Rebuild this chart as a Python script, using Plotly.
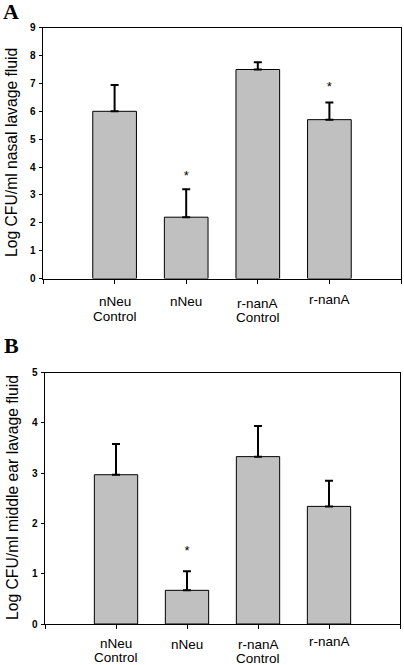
import plotly.graph_objects as go

categories = ["nNeu\nControl", "nNeu", "r-nanA\nControl", "r-nanA"]
x_pos = [0, 1, 2, 3]

nasal_mean = [6.0, 2.2, 7.5, 5.7]
nasal_err = [0.94, 1.0, 0.26, 0.62]
nasal_star_x = [1, 3]
nasal_star_y = [3.65, 6.86]

ear_mean = [2.97, 0.67, 3.33, 2.34]
ear_err = [0.61, 0.38, 0.61, 0.51]
ear_star_x = [1]
ear_star_y = [1.44]

y_ticks_a = list(range(0, 10))
y_ticks_b = list(range(0, 6))

W, H = 404, 665
FONT = "Liberation Sans, Arial, sans-serif"
SERIF = "Liberation Serif, Times New Roman, serif"
BAR_COLOR = "#c0c0c0"


def px(x):
    return x / W


def py(y):
    return 1 - y / H


# vertical centres (page pixels) of the category label lines in each panel
label_line_y_a = [[301.5, 316], [301.5], [304, 317], [299]]
label_line_y_b = [[643.5, 657.5], [644.5], [644.5, 658], [641.5]]

fig = go.Figure()


def add_panel(means, errs, sx, sy, xa, ya):
    fig.add_trace(go.Bar(
        x=x_pos, y=means, width=0.61,
        marker=dict(color=BAR_COLOR, line=dict(color="black", width=1)),
        error_y=dict(type="data", symmetric=False, array=errs,
                     arrayminus=[0] * len(errs), color="black",
                     thickness=2, width=4),
        xaxis=xa, yaxis=ya, showlegend=False, hoverinfo="skip"))
    fig.add_trace(go.Scatter(
        x=sx, y=sy, mode="text", text=["*"] * len(sx),
        textfont=dict(family=FONT, size=13, color="black"),
        xaxis=xa, yaxis=ya, showlegend=False, hoverinfo="skip"))


add_panel(nasal_mean, nasal_err, nasal_star_x, nasal_star_y, "x", "y")
add_panel(ear_mean, ear_err, ear_star_x, ear_star_y, "x2", "y2")


def xaxis_cfg(domain, anchor):
    return dict(domain=domain, anchor=anchor, range=[-1, 4], automargin=False,
                tickvals=[-1] + x_pos + [4], showticklabels=False,
                ticks="outside", ticklen=4, tickwidth=1, tickcolor="black",
                showline=True, linecolor="black", linewidth=1, mirror=True,
                showgrid=False, zeroline=False)


def yaxis_cfg(domain, anchor, rng, tv):
    return dict(domain=domain, anchor=anchor, range=rng, tickvals=tv, automargin=False,
                ticks="outside", ticklen=3.5, tickwidth=1, tickcolor="black",
                showline=True, linecolor="black", linewidth=1, mirror=True,
                showgrid=False, zeroline=False, ticklabelstandoff=1,
                tickfont=dict(family=FONT, size=10, color="black", weight="bold"))


annotations = [
    dict(text="Log CFU/ml nasal lavage fluid", textangle=-90,
         x=px(12), y=py(153), xref="paper", yref="paper",
         xanchor="center", yanchor="middle",
         showarrow=False, font=dict(family=FONT, size=15.7, color="black")),
    dict(text="Log CFU/ml middle ear lavage fluid", textangle=-90,
         x=px(12), y=py(498), xref="paper", yref="paper",
         xanchor="center", yanchor="middle",
         showarrow=False, font=dict(family=FONT, size=15.7, color="black")),
    dict(text="<b>A</b>", x=px(10.5), y=py(12), xref="paper", yref="paper",
         xanchor="center", yanchor="middle", showarrow=False,
         font=dict(family=SERIF, size=22, color="black")),
    dict(text="<b>B</b>", x=px(11), y=py(345), xref="paper", yref="paper",
         xanchor="center", yanchor="middle", showarrow=False,
         font=dict(family=SERIF, size=22, color="black")),
]

for xref, line_ys in (("x", label_line_y_a), ("x2", label_line_y_b)):
    for xi, cat, ys in zip(x_pos, categories, line_ys):
        for line, yy in zip(cat.split("\n"), ys):
            annotations.append(dict(
                text=line, x=xi, y=py(yy), xref=xref, yref="paper",
                xanchor="center", yanchor="middle", showarrow=False,
                font=dict(family=FONT, size=13.5, color="black")))

fig.update_layout(
    width=W, height=H, margin=dict(l=0, r=0, t=0, b=0, pad=0, autoexpand=False),
    paper_bgcolor="white", plot_bgcolor="white",
    xaxis=xaxis_cfg([px(43), px(401)], "y"),
    yaxis=yaxis_cfg([py(278.5), py(27.7)], "x", [0, 9], y_ticks_a),
    xaxis2=xaxis_cfg([px(45), px(400)], "y2"),
    yaxis2=yaxis_cfg([py(624), py(372.7)], "x2", [0, 5], y_ticks_b),
    annotations=annotations,
)

# remove the browser's default 8px body margin so the figure fills the window
fig.write_html(
    "out.html",
    config={"displayModeBar": False},
    post_script="document.body.style.margin='0';document.body.style.overflow='hidden';",
)
